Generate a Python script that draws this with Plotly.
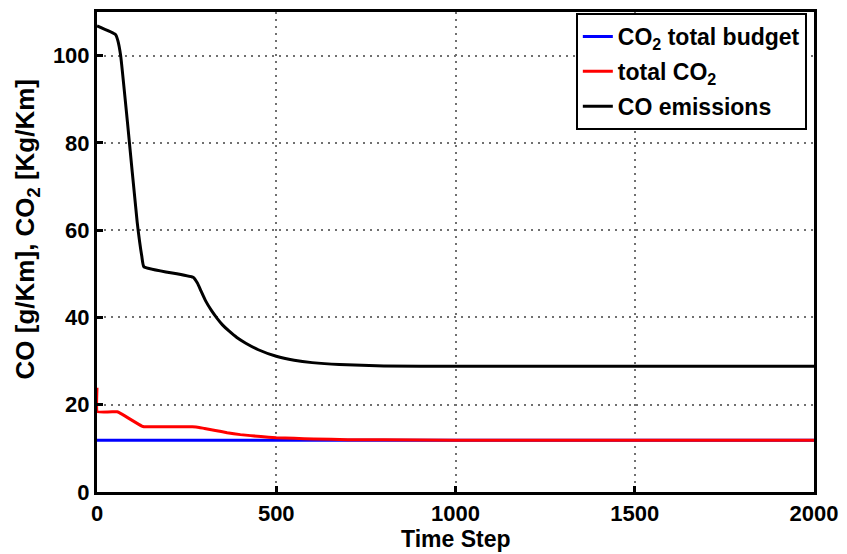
import plotly.graph_objects as go

# Time steps and series values
budget_steps = [0, 2000]
budget_co2 = [11.86, 11.86]

co2_steps = [0, 1, 56, 62, 125, 131, 266, 285, 300, 330, 363, 400, 457, 500, 550, 605, 700, 800, 1000, 2000]
co2_total = [23.9, 18.4, 18.4, 18.2, 15.1, 14.95, 14.95, 14.8, 14.55, 14.1, 13.6, 13.15, 12.7, 12.45, 12.3, 12.15, 12.0, 11.95, 11.88, 11.86]

co_steps = [0, 52, 58, 66, 85, 112, 125, 131, 268, 280, 290, 303, 320, 335, 350, 368, 390, 415, 450, 500, 550, 600, 676, 800, 1000, 2000]
co_emissions = [106.8, 104.8, 103.5, 100.0, 84.7, 61.9, 54.0, 51.6, 49.2, 47.9, 46.1, 43.8, 41.5, 39.8, 38.3, 36.9, 35.4, 34.1, 32.6, 31.1, 30.2, 29.65, 29.2, 28.9, 28.8, 28.8]

x_ticks = [0, 500, 1000, 1500, 2000]
y_ticks = [0, 20, 40, 60, 80, 100]

fig = go.Figure()
fig.add_trace(go.Scatter(x=budget_steps, y=budget_co2, mode="lines",
                         line=dict(color="#0000ff", width=3),
                         name="CO<sub>2</sub> total budget", legendgroup="a"))
fig.add_trace(go.Scatter(x=co2_steps, y=co2_total, mode="lines",
                         line=dict(color="#ff0000", width=3, shape="spline", smoothing=0.3),
                         name="total CO<sub>2</sub>", legendgroup="b"))
fig.add_trace(go.Scatter(x=co_steps, y=co_emissions, mode="lines",
                         line=dict(color="#000000", width=3, shape="spline", smoothing=0.4),
                         name="CO emissions", legendgroup="c"))

axis_common = dict(
    showline=True, linecolor="black", linewidth=3, mirror=True,
    ticks="inside", ticklen=6, tickwidth=3, tickcolor="black",
    showgrid=True, gridcolor="#707070", gridwidth=1.5, griddash="2px,5px",
    zeroline=False,
    tickfont=dict(size=22, color="black"),
)

fig.update_xaxes(range=[0, 2000], tickvals=x_ticks, **axis_common)
fig.update_yaxes(range=[0, 110], tickvals=y_ticks, **axis_common)

# Axis labels
fig.add_annotation(text="Time Step",
                   xref="paper", yref="paper", x=0.5, y=-0.097,
                   xanchor="center", yanchor="middle", showarrow=False,
                   font=dict(size=23, color="black"))
fig.add_annotation(text="CO [g/Km], CO<sub>2</sub> [Kg/Km]", textangle=-90,
                   xref="paper", yref="paper", x=-0.097, y=0.548,
                   xanchor="center", yanchor="middle", showarrow=False,
                   font=dict(size=26, color="black"))

fig.update_layout(
    width=847, height=554,
    margin=dict(l=97, r=30, t=9, b=62),
    paper_bgcolor="white", plot_bgcolor="white",
    font=dict(family="Liberation Sans, Arial, sans-serif", weight="bold", color="black"),
    legend=dict(x=0.99, y=0.998, xanchor="right", yanchor="top",
                bgcolor="white", bordercolor="black", borderwidth=2,
                tracegroupgap=2,
                font=dict(size=23, color="black")),
)

fig.write_html("out.html")
